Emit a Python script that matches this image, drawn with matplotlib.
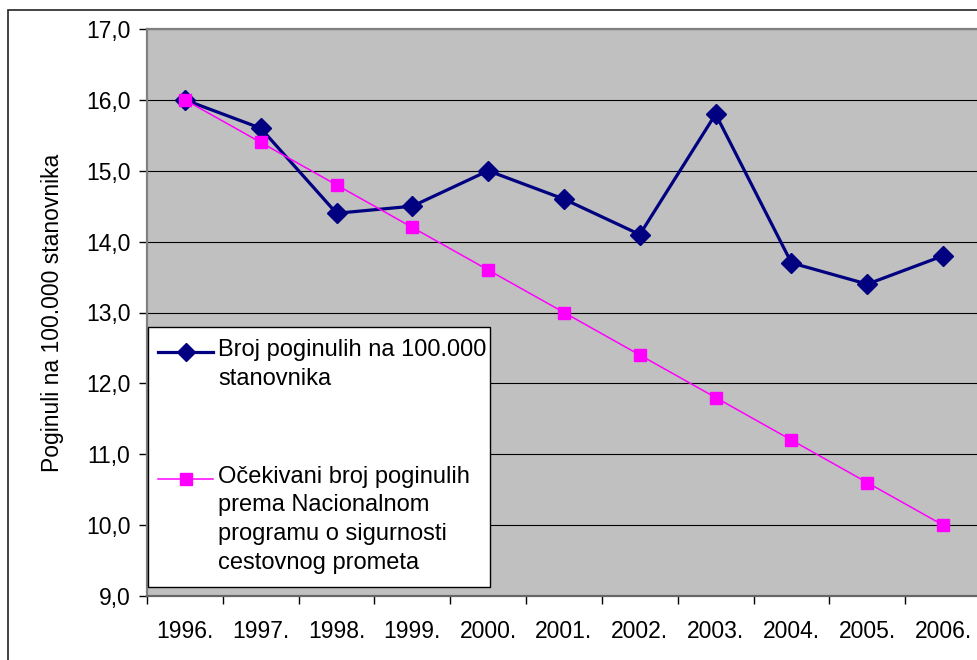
import matplotlib
matplotlib.use("Agg")
import matplotlib.pyplot as plt
from matplotlib.patches import Rectangle
from matplotlib.lines import Line2D
from matplotlib.ticker import FuncFormatter

plt.rcParams["font.family"] = ["Liberation Sans", "DejaVu Sans"]

years = ["1996.", "1997.", "1998.", "1999.", "2000.", "2001.",
         "2002.", "2003.", "2004.", "2005.", "2006."]
actual = [16.0, 15.6, 14.4, 14.5, 15.0, 14.6, 14.1, 15.8, 13.7, 13.4, 13.8]
expected = [16.0, 15.4, 14.8, 14.2, 13.6, 13.0, 12.4, 11.8, 11.2, 10.6, 10.0]

label_actual = "Broj poginulih na 100.000\nstanovnika"
label_expected = ("Očekivani broj poginulih\nprema Nacionalnom\n"
                  "programu o sigurnosti\ncestovnog prometa")
ylabel = "Poginuli na 100.000 stanovnika"

FS = 16.5
W, H = 978, 660
fig = plt.figure(figsize=(W / 100, H / 100), dpi=100)
fig.patch.set_facecolor("white")

# outer chart border (continues past the image edge)
fig.patches.append(Rectangle((8 / W, -0.1), 1.2, (H - 10) / H + 0.1,
                             transform=fig.transFigure, fill=False,
                             edgecolor="#222222", linewidth=1.2))

ax = fig.add_axes([147 / W, 1 - 596 / H, 834 / W, (596 - 29) / H])
ax.set_facecolor("#C0C0C0")

x = list(range(len(years)))
ax.plot(x, actual, color="#000080", lw=2.3, marker="D", ms=10.5,
        zorder=3, clip_on=False)
ax.plot(x, expected, color="#FF00FF", lw=1.1, marker="s", ms=8,
        zorder=4, clip_on=False)

ax.set_xlim(-0.5, len(years) - 0.5)
ax.set_ylim(9, 17)
ax.set_yticks(range(9, 18))
ax.yaxis.set_major_formatter(FuncFormatter(lambda v, p: f"{v:.1f}".replace(".", ",")))
ax.grid(axis="y", color="black", lw=0.8)
ax.set_axisbelow(True)

ax.set_xticks(x)
ax.set_xticklabels(years)
ax.set_xticks([i - 0.5 for i in range(len(years) + 1)], minor=True)
ax.tick_params(axis="x", which="major", length=0, pad=17, labelsize=FS)
ax.tick_params(axis="x", which="minor", length=6, width=1, color="black", direction="out")
ax.tick_params(axis="y", length=6, width=1, color="black", labelsize=FS, pad=6)

for s in ["top", "left", "bottom", "right"]:
    ax.spines[s].set_color("#808080")
    ax.spines[s].set_linewidth(1.6)
ax.spines["bottom"].set_color("#666666")

ax.set_ylabel(ylabel, fontsize=FS, labelpad=16)

# legend box drawn by hand to keep Excel-like layout
def fx(px):
    return px / W

def fy(py):
    return 1 - py / H

fig.patches.append(Rectangle((fx(148), fy(587)), fx(490) - fx(148), fy(327) - fy(587),
                             transform=fig.transFigure, facecolor="white",
                             edgecolor="black", linewidth=1.0, zorder=5))
fig.lines.append(Line2D([fx(158), fx(213)], [fy(352), fy(352)], color="#000080", lw=2.3,
                        transform=fig.transFigure, zorder=6))
fig.lines.append(Line2D([fx(186)], [fy(352)], color="#000080", marker="D", ms=9,
                        transform=fig.transFigure, zorder=6))
fig.lines.append(Line2D([fx(158), fx(213)], [fy(479), fy(479)], color="#FF00FF", lw=1.1,
                        transform=fig.transFigure, zorder=6))
fig.lines.append(Line2D([fx(186)], [fy(479)], color="#FF00FF", marker="s", ms=8,
                        transform=fig.transFigure, zorder=6))
# va="baseline" sits on the last line of a multi-line text
fig.text(fx(218), fy(385), label_actual, fontsize=17, va="baseline", ha="left",
         linespacing=1.4, zorder=7)
fig.text(fx(218), fy(569), label_expected, fontsize=17, va="baseline", ha="left",
         linespacing=1.4, zorder=7)

fig.savefig("out.png", dpi=100)
